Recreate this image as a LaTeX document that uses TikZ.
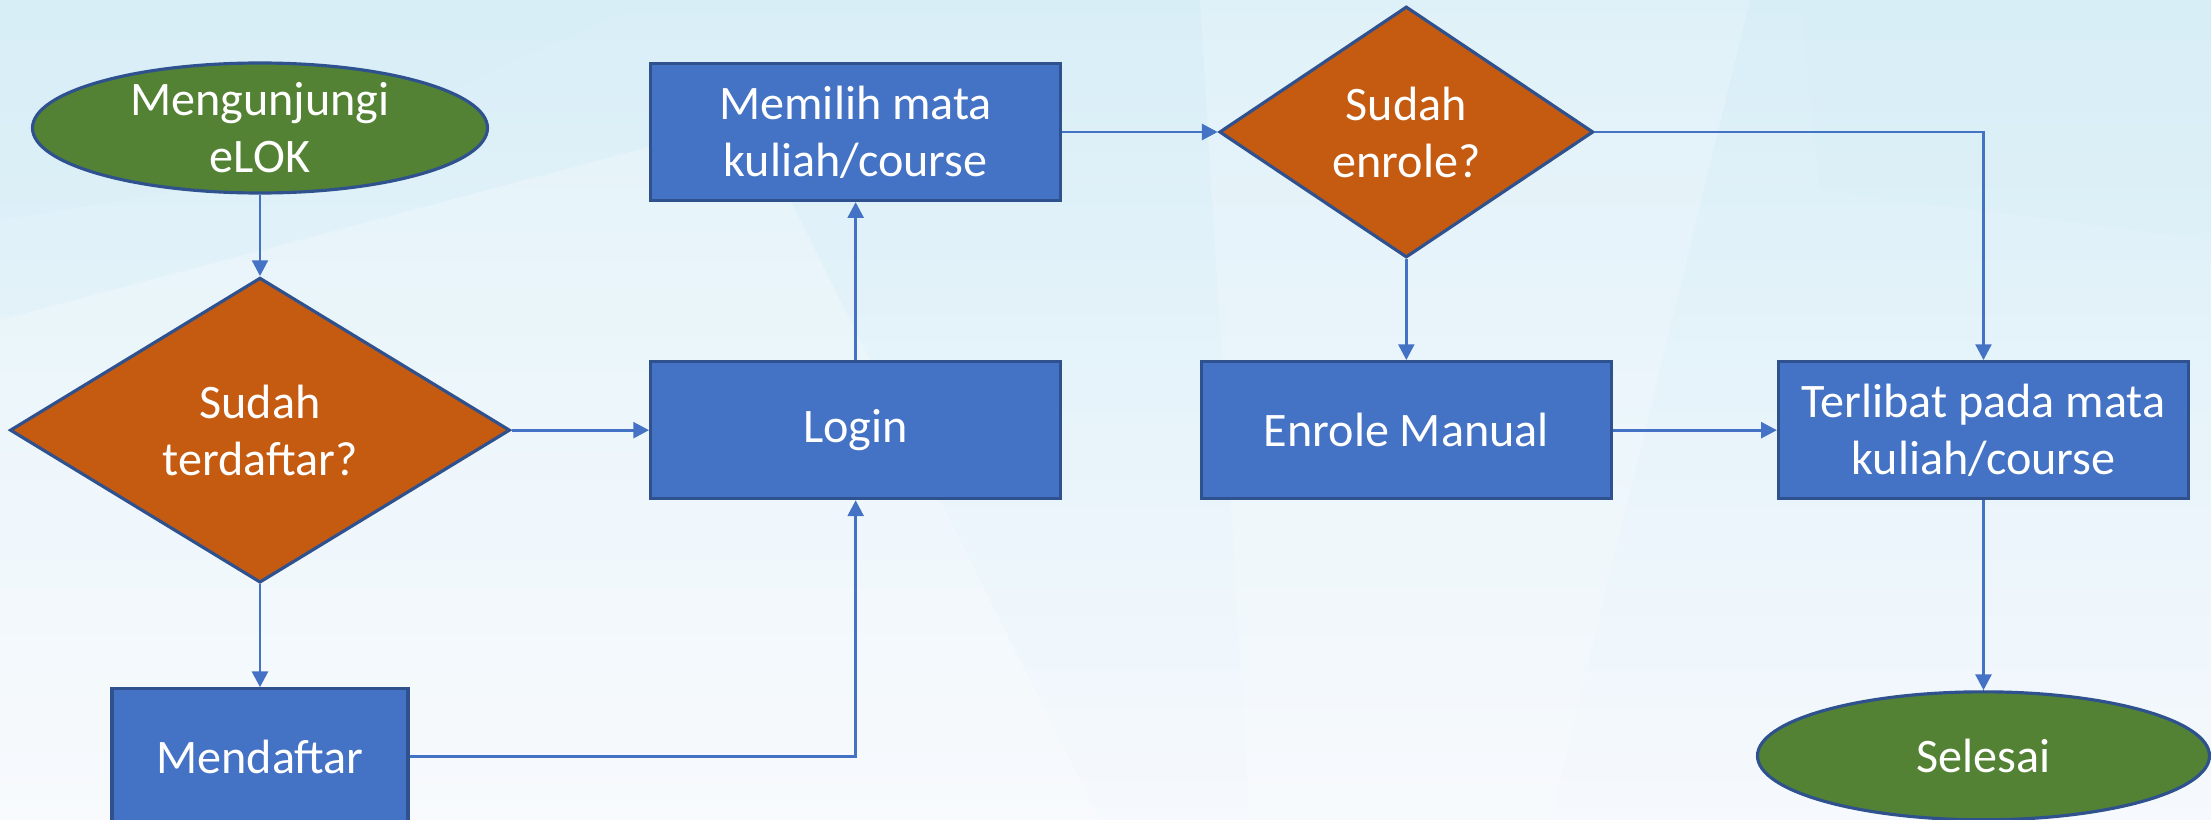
\documentclass[tikz,border=0pt]{standalone}
\usepackage{fontspec}
\setmainfont{Carlito}
\usetikzlibrary{shapes.geometric, arrows.meta, calc, positioning}
\definecolor{boxblue}{HTML}{4472C4}
\definecolor{edgeblue}{HTML}{2F528F}
\definecolor{termgreen}{HTML}{548235}
\definecolor{decorange}{HTML}{C55A11}
\definecolor{bgblue}{HTML}{D8EEF7}
\definecolor{bgwhite}{HTML}{F6F9FD}
\tikzstyle{startstop} = [ellipse, line width=0.9pt, draw=edgeblue, fill=termgreen, text=white, minimum width=4.55cm, minimum height=1.3cm, inner sep=0pt, align=center]
\tikzstyle{decision} = [diamond, line width=0.9pt, draw=edgeblue, fill=decorange, text=white, minimum width=5cm, minimum height=3.05cm, inner sep=0pt, align=center]
\tikzstyle{process} = [rectangle, line width=0.9pt, draw=edgeblue, fill=boxblue, text=white, minimum width=4.1cm, minimum height=1.37cm, align=center]
\tikzstyle{arrow} = [line width=0.85pt, draw=boxblue, -{Triangle[width=4.5pt,length=4.5pt]}]

\begin{document}
\begin{tikzpicture}[node distance = 10mm, font=\fontsize{13.7}{16.2}\selectfont]
	% background
	\shade[top color=bgblue, bottom color=bgwhite] (0,0) rectangle (22.11,-8.2);
	\fill[white, opacity=0.25] (0,-3.2) -- (7.5,-1.2) -- (11,-8.2) -- (0,-8.2) -- cycle;
	\fill[bgblue, opacity=0.35] (0,0) -- (6.5,0) -- (2.5,-1.8) -- (0,-2.2) -- cycle;
	\fill[bgblue, opacity=0.3] (18,0) -- (22.11,0) -- (22.11,-2.4) -- (18.2,-1.9) -- cycle;
	\fill[white, opacity=0.2] (12,0) -- (17.5,0) -- (15.5,-8.2) -- (12.5,-8.2) -- cycle;
	\useasboundingbox (0,0) rectangle (22.11,-8.2);
	\node (Start) [startstop] at (2.60,-1.28) {Mengunjungi\\eLOK};
	\node (Terdaftar) [decision, below = 0.815cm of Start] {Sudah\\terdaftar?};
	\node (Mendaftar) [process, minimum width=2.96cm, minimum height=1.36cm, below = 1.03cm of Terdaftar] {Mendaftar};
	\node (Login) [process, right = 1.375cm of Terdaftar] {Login};
	\node (Memilih) [process, above = 1.58cm of Login] {Memilih mata\\kuliah/course};
	\node (Enrole) [decision, minimum width=3.74cm, minimum height=2.51cm, right = 1.555cm of Memilih] {Sudah\\enrole?};
	\node (Manual) [process, below = 1.01cm of Enrole] {Enrole Manual};
	\node (Terlibat) [process, right = 1.64cm of Manual] {Terlibat pada mata\\kuliah/course};
	\node (Selesai) [startstop, minimum width=4.52cm, minimum height=1.28cm, below = 1.9cm of Terlibat] {Selesai};
	\draw [arrow] (Start) -- (Terdaftar);
	\draw [arrow] (Terdaftar) -- (Login);
	\draw [arrow] (Terdaftar) -- (Mendaftar);
	\draw [arrow] (Mendaftar) -| (Login);
	\draw [arrow] (Login) -- (Memilih);
	\draw [arrow] (Memilih) -- (Enrole);
	\draw [arrow] (Enrole) -| (Terlibat);
	\draw [arrow] (Enrole) -- (Manual);
	\draw [arrow] (Manual) -- (Terlibat);
	\draw [arrow] (Terlibat) -- (Selesai);
\end{tikzpicture}
\end{document}
